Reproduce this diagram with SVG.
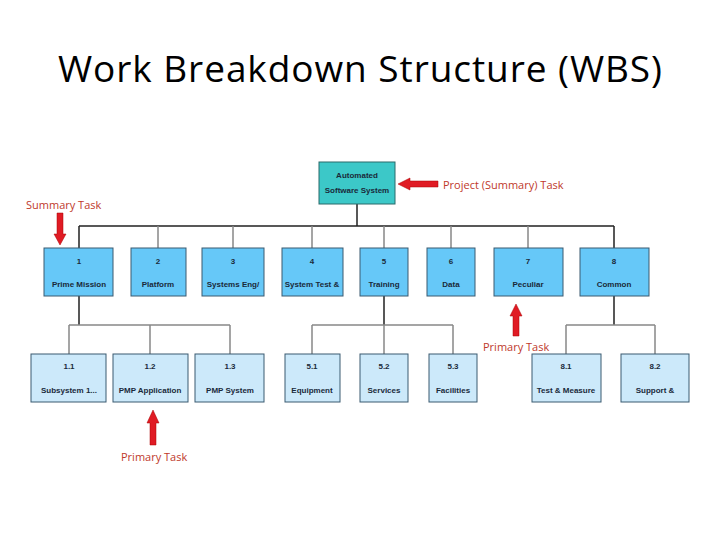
<svg xmlns="http://www.w3.org/2000/svg" width="720" height="540" viewBox="0 0 720 540">
<defs>
<style>
.l1{fill:#66c8f8;stroke:#3a5a70;stroke-width:1}
.l2{fill:#cce9fa;stroke:#3a5a70;stroke-width:1}
.bt{font-family:"Liberation Sans",sans-serif;font-size:8px;font-weight:bold;fill:#1a2a3a;text-anchor:middle}
.ln{stroke:#222;stroke-width:1.5;fill:none}
.lg{stroke:#888;stroke-width:1.5;fill:none}
.rt{font-family:"Open Sans","Liberation Sans",sans-serif;font-size:11px;fill:#c0392b}
.ar{fill:#e01b24;stroke:#a00;stroke-width:0.5}
</style>
</defs>
<rect width="720" height="540" fill="#fff"/>
<text x="360" y="82" font-family="'Open Sans','Liberation Sans',sans-serif" font-size="37" text-anchor="middle" fill="#000" textLength="604">Work Breakdown Structure (WBS)</text>
<g id="connectors">
<path class="ln" d="M357 204V226M79 226H614M79 226V248M614 226V248"/>
<path class="lg" d="M158 226V248M233 226V248M312 226V248M384 226V248M451 226V248M528 226V248"/>
<path class="ln" d="M79 296V325M384 296V325M614 296V325"/>
<path class="lg" d="M69 325H230M69 325V354M150 325V354M230 325V354"/>
<path class="lg" d="M312 325H453M312 325V354M384 325V354M453 325V354"/>
<path class="lg" d="M566 325H655M566 325V354M655 325V354"/>
</g>
<g id="n0"><rect x="319" y="162" width="76" height="42" fill="#3cc8c8" stroke="#2a6a6a"/><text class="bt" x="357" y="178">Automated</text><text class="bt" x="357" y="193">Software System</text></g>
<g id="n1"><rect class="l1" x="44" y="248" width="69" height="48"/><text class="bt" x="79" y="264">1</text><text class="bt" x="79" y="287">Prime Mission</text></g>
<g id="n2"><rect class="l1" x="131" y="248" width="55" height="48"/><text class="bt" x="158" y="264">2</text><text class="bt" x="158" y="287">Platform</text></g>
<g id="n3"><rect class="l1" x="202" y="248" width="62" height="48"/><text class="bt" x="233" y="264">3</text><text class="bt" x="233" y="287">Systems Eng/</text></g>
<g id="n4"><rect class="l1" x="282" y="248" width="61" height="48"/><text class="bt" x="312" y="264">4</text><text class="bt" x="312" y="287">System Test &amp;</text></g>
<g id="n5"><rect class="l1" x="360" y="248" width="48" height="48"/><text class="bt" x="384" y="264">5</text><text class="bt" x="384" y="287">Training</text></g>
<g id="n6"><rect class="l1" x="427" y="248" width="48" height="48"/><text class="bt" x="451" y="264">6</text><text class="bt" x="451" y="287">Data</text></g>
<g id="n7"><rect class="l1" x="494" y="248" width="69" height="48"/><text class="bt" x="528" y="264">7</text><text class="bt" x="528" y="287">Peculiar</text></g>
<g id="n8"><rect class="l1" x="580" y="248" width="69" height="48"/><text class="bt" x="614" y="264">8</text><text class="bt" x="614" y="287">Common</text></g>
<g id="n11"><rect class="l2" x="31" y="354" width="75" height="48"/><text class="bt" x="69" y="369">1.1</text><text class="bt" x="69" y="393">Subsystem 1...</text></g>
<g id="n12"><rect class="l2" x="113" y="354" width="75" height="48"/><text class="bt" x="150" y="369">1.2</text><text class="bt" x="150" y="393">PMP Application</text></g>
<g id="n13"><rect class="l2" x="195" y="354" width="69" height="48"/><text class="bt" x="230" y="369">1.3</text><text class="bt" x="230" y="393">PMP System</text></g>
<g id="n51"><rect class="l2" x="285" y="354" width="55" height="48"/><text class="bt" x="312" y="369">5.1</text><text class="bt" x="312" y="393">Equipment</text></g>
<g id="n52"><rect class="l2" x="360" y="354" width="48" height="48"/><text class="bt" x="384" y="369">5.2</text><text class="bt" x="384" y="393">Services</text></g>
<g id="n53"><rect class="l2" x="429" y="354" width="48" height="48"/><text class="bt" x="453" y="369">5.3</text><text class="bt" x="453" y="393">Facilities</text></g>
<g id="n81"><rect class="l2" x="532" y="354" width="69" height="48"/><text class="bt" x="566" y="369">8.1</text><text class="bt" x="566" y="393">Test &amp; Measure</text></g>
<g id="n82"><rect class="l2" x="621" y="354" width="68" height="48"/><text class="bt" x="655" y="369">8.2</text><text class="bt" x="655" y="393">Support &amp;</text></g>
<g id="annotations">
<text class="rt" x="26" y="209">Summary Task</text>
<path class="ar" d="M57 213H63V234H66L60 245L54 234H57Z"/>
<text class="rt" x="443" y="189">Project (Summary) Task</text>
<path class="ar" d="M438 181V187H410V190L398 184L410 178V181Z"/>
<text class="rt" x="483" y="351">Primary Task</text>
<path class="ar" d="M513 336H519V316H522L516 304L510 316H513Z"/>
<text class="rt" x="121" y="461">Primary Task</text>
<path class="ar" d="M150 445H156V423H159L153 410L147 423H150Z"/>
</g>
</svg>
